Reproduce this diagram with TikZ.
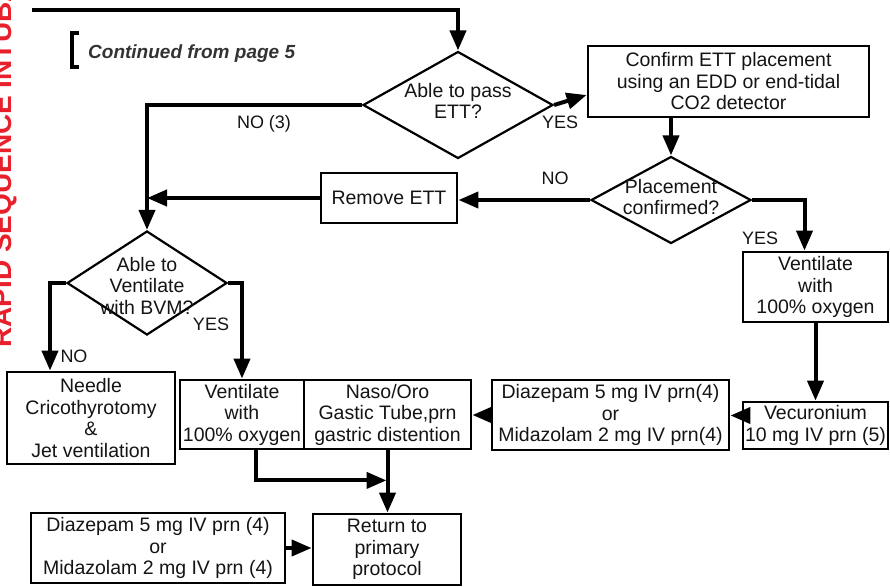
\documentclass[tikz,border=0pt]{standalone}
\usepackage{fontspec}
\setmainfont{Liberation Sans}
\usetikzlibrary{arrows.meta,shapes.geometric,calc}
\definecolor{rsired}{RGB}{232,32,44}
\definecolor{txtgray}{RGB}{20,20,20}
\newcommand{\boxfont}{\fontsize{19.5}{21.5}\selectfont}
\newcommand{\labfont}{\fontsize{18}{20}\selectfont}
\begin{document}
\begin{tikzpicture}[x=1pt,y=-1pt,
  box/.style={draw, line width=2.8pt, inner sep=0pt, align=center, font=\boxfont, text=txtgray},
  dia/.style={draw, shape=diamond, line width=2.2pt, inner sep=0pt},
  diatext/.style={align=center, font=\boxfont, text=txtgray, inner sep=0pt},
  lab/.style={font=\labfont, text=txtgray, inner sep=0pt},
  arr/.style={line width=4pt, -{Triangle[length=20pt,width=16pt]}},
]
\useasboundingbox (0,0) rectangle (890,586);
\clip (0,0) rectangle (890,586);

% red side title
\node[rotate=90, anchor=base west, text=rsired, inner sep=0pt,
      font=\fontsize{28}{30}\selectfont\bfseries] (title) at (11,348) {RAPID SEQUENCE INTUBATION};

% continued marker
\draw[line width=4pt] (79,33) -- (72,33) -- (72,67) -- (79,67);
\node[anchor=base west, inner sep=0pt, text=black!80, font=\fontsize{19}{21}\selectfont\bfseries\itshape] (cont) at (88,59) {Continued from page 5};

% decisions
\node[dia, minimum width=190pt, minimum height=107pt] (d1) at (458,105) {};
\node[diatext] (d1t) at (458,101) {Able to pass\\ETT?};
\node[dia, minimum width=160pt, minimum height=87pt] (d2) at (671,200) {};
\node[diatext] (d2t) at (671,197) {Placement\\confirmed?};
\node[dia, minimum width=160pt, minimum height=104pt] (d3) at (147,283) {};
\node[diatext] (d3t) at (147,286) {Able to\\Ventilate\\with BVM?};

% boxes
\node[box, minimum width=281pt, minimum height=71pt] (confirm) at (728.5,81.5) {Confirm ETT placement\\using an EDD or end-tidal\\CO2 detector};
\node[box, minimum width=136pt, minimum height=50pt] (remove) at (389,198) {Remove ETT};
\node[box, minimum width=145pt, minimum height=70pt] (vent2) at (815.5,287) {Ventilate\\with\\100\% oxygen};
\node[box, minimum width=145pt, minimum height=47pt] (vecur) at (815.5,425.5) {Vecuronium\\10 mg IV prn (5)};
\node[box, minimum width=237pt, minimum height=70pt] (diaz1) at (610.5,415) {Diazepam 5 mg IV prn(4)\\or\\Midazolam 2 mg IV prn(4)};
\node[box, minimum width=167pt, minimum height=69pt] (naso) at (387.5,414.5) {Naso/Oro\\Gastic Tube,prn\\gastric distention};
\node[box, minimum width=124pt, minimum height=69pt] (vent1) at (242,414.5) {Ventilate\\with\\100\% oxygen};
\node[box, minimum width=168pt, minimum height=92pt] (needle) at (91,418) {Needle\\Cricothyrotomy\\\&\\Jet ventilation};
\node[box, minimum width=148pt, minimum height=71pt] (ret) at (387,549.5) {Return to\\primary\\protocol};
\node[box, minimum width=254pt, minimum height=70pt] (diaz2) at (158,548) {Diazepam 5 mg IV prn (4)\\or\\Midazolam 2 mg IV prn (4)};

% helper points
\coordinate (start) at (32,10);
\coordinate (cw) at ($(confirm.west)+(0,13.5)$);
\coordinate (v2n) at ($(vent2.north)+(-11,0)$);
\coordinate (vw) at ($(vecur.west)+(0,-10)$);
\coordinate (nn) at ($(needle.north)+(-41,0)$);
\coordinate (v1s) at ($(vent1.south)+(14,0)$);
\coordinate (join) at ($(naso.south)+(-1,30)$);

% connectors
\draw[arr] (start) -| (d1.north);
\draw[arr] (d1.east) -- (cw);
\draw[arr] (d1.west) -| (d3.north);
\draw[arr] (confirm.south -| d2.north) -- (d2.north);
\draw[arr] (d2.west) -- (d2.west -| remove.east);
\draw[arr] (remove.west) -- (remove.west -| d3.north);
\draw[arr] (d2.east) -| (v2n);
\draw[arr] (vent2.south) -- (vecur.north);
\draw[arr] (vw) -- (vw -| diaz1.east);
\draw[arr] (diaz1.west) -- (diaz1.west -| naso.east);
\draw[arr] (d3.west) -| (nn);
\draw[arr] (d3.east) -| (vent1.north);
\draw[arr] (v1s) |- (join);
\draw[arr] (naso.south) -- (naso.south |- ret.north);
\draw[arr] (diaz2.east) -- (diaz2.east -| ret.west);

% labels
\node[lab] (l1) at (264,124) {NO (3)};
\node[lab] (l2) at (560,122) {YES};
\node[lab] (l3) at (555,178) {NO};
\node[lab] (l4) at (760,238) {YES};
\node[lab] (l5) at (74,356) {NO};
\node[lab] (l6) at (211,324) {YES};
\end{tikzpicture}
\end{document}
